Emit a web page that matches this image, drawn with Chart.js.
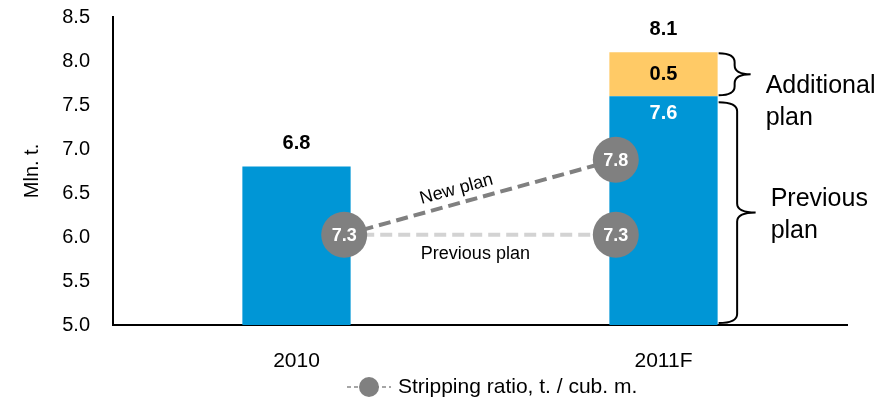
<!DOCTYPE html>
<html>
<head>
<meta charset="utf-8">
<script src="https://cdn.jsdelivr.net/npm/chart.js@4.4.1/dist/chart.umd.min.js"></script>
<style>
  html, body { margin: 0; padding: 0; background: #fff; }
  #wrap { width: 894px; height: 399px; }
</style>
</head>
<body>
<div id="wrap"><canvas id="ratioChart"></canvas></div>
<script>
// production, mln t
const years = ['2010', '2011F'];
const previousPlan = [6.8, 7.6];
const additionalPlan = [null, 0.5];
// stripping ratio, t / cub. m
const ratioNewPlan = [7.3, 7.8];
const ratioPreviousPlan = [7.3, 7.3];
const yTicks = [5.0, 5.5, 6.0, 6.5, 7.0, 7.5, 8.0, 8.5];

const FONT = "'Liberation Sans', Arial, sans-serif";
Chart.defaults.font.family = FONT;
Chart.defaults.color = '#000';

// ratio markers sit a little inside the category centre
const pointShift = 0.13;
const ratioPoints = arr => arr.map((v, i) => ({ x: i + (i === 0 ? pointShift : -pointShift), y: v }));

function drawBrace(ctx, x, y1, y2, w) {
  const m = (y1 + y2) / 2;
  const xs = x + w * 0.5;
  const r = Math.min(9, (y2 - y1) / 4);
  ctx.beginPath();
  ctx.moveTo(x, y1);
  ctx.quadraticCurveTo(xs, y1, xs, y1 + r);
  ctx.lineTo(xs, m - r);
  ctx.quadraticCurveTo(xs, m, x + w, m);
  ctx.quadraticCurveTo(xs, m, xs, m + r);
  ctx.lineTo(xs, y2 - r);
  ctx.quadraticCurveTo(xs, y2, x, y2);
  ctx.stroke();
}

const extras = {
  id: 'extras',
  afterDatasetsDraw(chart) {
    const ctx = chart.ctx;
    const y = chart.scales.y;
    const blue = chart.getDatasetMeta(0).data;
    const yellow = chart.getDatasetMeta(1).data;
    ctx.save();
    ctx.textAlign = 'center';
    ctx.textBaseline = 'middle';

    // totals above the bars
    ctx.font = 'bold 20px ' + FONT;
    ctx.fillStyle = '#000';
    years.forEach((_, i) => {
      const total = (previousPlan[i] || 0) + (additionalPlan[i] || 0);
      ctx.fillText(total.toFixed(1), blue[i].x, y.getPixelForValue(total) - 23);
    });
    // segment values inside the 2011F stack
    ctx.fillText(additionalPlan[1].toFixed(1), yellow[1].x, (yellow[1].y + yellow[1].base) / 2);
    ctx.fillStyle = '#fff';
    ctx.fillText(previousPlan[1].toFixed(1), blue[1].x, blue[1].y + 17);

    // line captions
    const np = chart.getDatasetMeta(3).data;
    const pp = chart.getDatasetMeta(2).data;
    const ang = Math.atan2(np[1].y - np[0].y, np[1].x - np[0].x);
    const t = 0.427;
    ctx.font = '18px ' + FONT;
    ctx.fillStyle = '#000';
    ctx.save();
    ctx.translate(np[0].x + (np[1].x - np[0].x) * t + Math.sin(ang) * 14,
                  np[0].y + (np[1].y - np[0].y) * t - Math.cos(ang) * 14);
    ctx.rotate(ang);
    ctx.fillText('New plan', 0, 0);
    ctx.restore();
    ctx.fillText('Previous plan', pp[0].x + (pp[1].x - pp[0].x) * 0.483, pp[0].y + 19);

    // values in the ratio circles
    ctx.font = 'bold 18px ' + FONT;
    ctx.fillStyle = '#fff';
    const pts = chart.getDatasetMeta(4).data;
    const ptsData = chart.data.datasets[4].data;
    pts.forEach((p, i) => ctx.fillText(ptsData[i].y.toFixed(1), p.x, p.y + 1));

    // braces on the right of the 2011F stack
    const bx = blue[1].x + blue[1].width / 2 + 1;
    ctx.strokeStyle = '#000';
    ctx.lineWidth = 2;
    const yTop = y.getPixelForValue(previousPlan[1] + additionalPlan[1]);
    const yMid = y.getPixelForValue(previousPlan[1]);
    const yBase = y.getPixelForValue(y.min);
    drawBrace(ctx, bx, yTop + 1, yMid - 1, 32);
    drawBrace(ctx, bx, yMid + 6, yBase - 2, 37);

    ctx.font = '25px ' + FONT;
    ctx.fillStyle = '#000';
    ctx.textAlign = 'left';
    ctx.fillText('Additional', bx + 47, (yTop + yMid) / 2 + 12);
    ctx.fillText('plan', bx + 47, (yTop + yMid) / 2 + 44);
    ctx.fillText('Previous', bx + 52, (yMid + yBase) / 2 - 11);
    ctx.fillText('plan', bx + 52, (yMid + yBase) / 2 + 21);

    // legend
    const lx = 347, ly = 387;
    ctx.strokeStyle = '#a6a6a6';
    ctx.lineWidth = 2;
    ctx.setLineDash([4, 3]);
    ctx.beginPath();
    ctx.moveTo(lx, ly);
    ctx.lineTo(lx + 44, ly);
    ctx.stroke();
    ctx.setLineDash([]);
    ctx.fillStyle = '#808080';
    ctx.beginPath();
    ctx.arc(lx + 22, ly, 10, 0, Math.PI * 2);
    ctx.fill();
    ctx.fillStyle = '#000';
    ctx.font = '21px ' + FONT;
    ctx.fillText(chart.data.datasets[4].label, lx + 51, ly);
    ctx.restore();
  }
};

new Chart(document.getElementById('ratioChart'), {
  type: 'bar',
  data: {
    labels: years,
    datasets: [
      {
        label: 'Previous plan',
        data: previousPlan,
        backgroundColor: '#0096d6',
        grouped: false,
        order: 3,
        barPercentage: 0.295,
        categoryPercentage: 1
      },
      {
        label: 'Additional plan',
        data: additionalPlan,
        backgroundColor: '#ffca66',
        grouped: false,
        order: 3,
        barPercentage: 0.295,
        categoryPercentage: 1
      },
      {
        type: 'line',
        label: 'Previous plan',
        data: ratioPoints(ratioPreviousPlan),
        xAxisID: 'xr',
        yAxisID: 'yr',
        borderColor: '#d3d3d3',
        borderWidth: 4,
        borderDash: [12, 6],
        pointRadius: 0,
        order: 2
      },
      {
        type: 'line',
        label: 'New plan',
        data: ratioPoints(ratioNewPlan),
        xAxisID: 'xr',
        yAxisID: 'yr',
        borderColor: '#808080',
        borderWidth: 4,
        borderDash: [12, 6],
        pointRadius: 0,
        order: 2
      },
      {
        type: 'scatter',
        label: 'Stripping ratio, t. / cub. m.',
        data: [...ratioPoints(ratioPreviousPlan), ratioPoints(ratioNewPlan)[1]],
        xAxisID: 'xr',
        yAxisID: 'yr',
        pointRadius: 23,
        pointBackgroundColor: '#808080',
        pointBorderWidth: 0,
        order: 1
      }
    ]
  },
  options: {
    responsive: true,
    maintainAspectRatio: false,
    animation: false,
    events: [],
    layout: { autoPadding: false, padding: { left: 12, right: 47, top: 17, bottom: 26 } },
    plugins: {
      legend: { display: false },
      tooltip: { enabled: false }
    },
    scales: {
      x: {
        stacked: true,
        grid: { display: false, drawTicks: false },
        border: { color: '#000', width: 2 },
        ticks: { font: { size: 21 }, padding: 24, color: '#000' },
        afterFit: axis => { axis.height = 48; axis.paddingLeft = 0; axis.paddingRight = 0; }
      },
      y: {
        stacked: true,
        min: 5,
        max: 8.5,
        afterBuildTicks: axis => { axis.ticks = yTicks.map(v => ({ value: v })); },
        grid: { display: false, drawTicks: false },
        border: { color: '#000', width: 2 },
        ticks: { font: { size: 20 }, padding: 23, color: '#000', callback: v => v.toFixed(1) },
        title: { display: true, text: 'Mln. t.', font: { size: 20 }, padding: { top: 8, bottom: 18 }, color: '#000' },
        afterFit: axis => { axis.width = 101; axis.paddingTop = 0; axis.paddingBottom = 0; }
      },
      xr: { type: 'linear', display: false, offset: false, min: -0.5, max: 1.5 },
      yr: { type: 'linear', display: false, min: 6.7, max: 8.75 }
    }
  },
  plugins: [extras]
});
</script>
</body>
</html>
